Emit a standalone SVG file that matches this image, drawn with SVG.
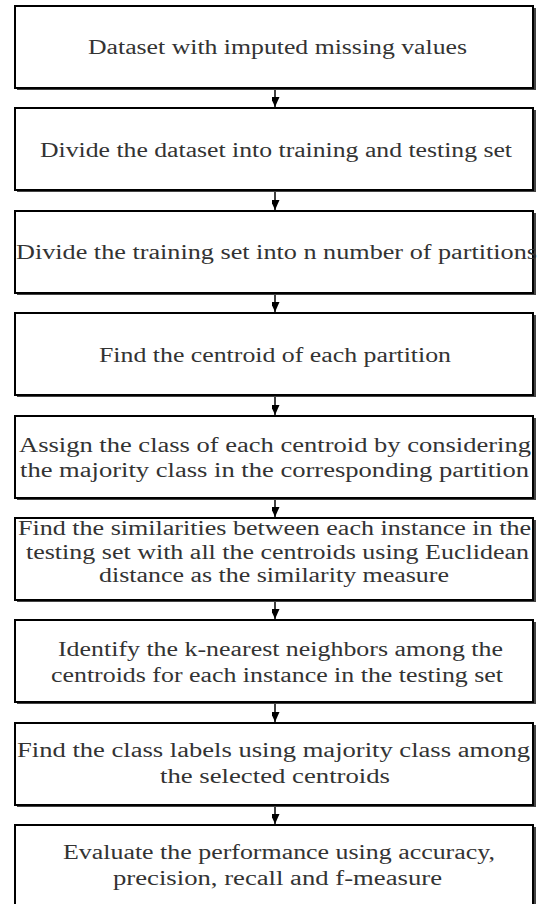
<svg xmlns="http://www.w3.org/2000/svg" width="539" height="904" viewBox="0 0 539 904">
<defs>
<style>
.shadow{fill:#444;}
.box{fill:#fff;stroke:#000;stroke-width:2;}
.t{font-family:"Liberation Serif","Times New Roman",serif;font-size:20px;fill:#333;}
.c{stroke:#000;stroke-width:1.5;fill:none;}
</style>
<marker id="ah" markerWidth="11" markerHeight="8" refX="10" refY="4.5" orient="auto" markerUnits="userSpaceOnUse">
<path d="M0,0 L10,4.5 L0,9 z" fill="#000"/>
</marker>
</defs>
<rect width="539" height="904" fill="#fff"/>
<g id="connectors">
<line class="c" x1="275" y1="88" x2="275" y2="107" marker-end="url(#ah)"/>
<line class="c" x1="275" y1="190" x2="275" y2="210" marker-end="url(#ah)"/>
<line class="c" x1="275" y1="293" x2="275" y2="312" marker-end="url(#ah)"/>
<line class="c" x1="275" y1="395" x2="275" y2="415" marker-end="url(#ah)"/>
<line class="c" x1="275" y1="498" x2="275" y2="517" marker-end="url(#ah)"/>
<line class="c" x1="275" y1="600" x2="275" y2="619" marker-end="url(#ah)"/>
<line class="c" x1="275" y1="702" x2="275" y2="722" marker-end="url(#ah)"/>
<line class="c" x1="275" y1="805" x2="275" y2="824" marker-end="url(#ah)"/>
</g>
<g id="n1">
<rect class="shadow" x="17" y="8" width="519" height="82"/>
<rect class="box" x="15" y="6" width="518" height="82"/>
<text class="t" x="88" y="54" textLength="379" lengthAdjust="spacingAndGlyphs">Dataset with imputed missing values</text>
</g>
<g id="n2">
<rect class="shadow" x="17" y="110" width="519" height="82"/>
<rect class="box" x="15" y="108" width="518" height="82"/>
<text class="t" x="40" y="157" textLength="472" lengthAdjust="spacingAndGlyphs">Divide the dataset into training and testing set</text>
</g>
<g id="n3">
<rect class="shadow" x="17" y="213" width="519" height="82"/>
<rect class="box" x="15" y="211" width="518" height="82"/>
<text class="t" x="16" y="259" textLength="521" lengthAdjust="spacingAndGlyphs">Divide the training set into n number of partitions</text>
</g>
<g id="n4">
<rect class="shadow" x="17" y="315" width="519" height="82"/>
<rect class="box" x="15" y="313" width="518" height="82"/>
<text class="t" x="99" y="362" textLength="352" lengthAdjust="spacingAndGlyphs">Find the centroid of each partition</text>
</g>
<g id="n5">
<rect class="shadow" x="17" y="418" width="519" height="82"/>
<rect class="box" x="15" y="416" width="518" height="82"/>
<text class="t" x="19" y="452" textLength="512" lengthAdjust="spacingAndGlyphs">Assign the class of each centroid by considering</text>
<text class="t" x="20" y="477" textLength="509" lengthAdjust="spacingAndGlyphs">the majority class in the corresponding partition</text>
</g>
<g id="n6">
<rect class="shadow" x="17" y="520" width="519" height="82"/>
<rect class="box" x="15" y="518" width="518" height="82"/>
<text class="t" x="18" y="535" textLength="513" lengthAdjust="spacingAndGlyphs">Find the similarities between each instance in the</text>
<text class="t" x="26" y="559" textLength="503" lengthAdjust="spacingAndGlyphs">testing set with all the centroids using Euclidean</text>
<text class="t" x="99" y="582" textLength="350" lengthAdjust="spacingAndGlyphs">distance as the similarity measure</text>
</g>
<g id="n7">
<rect class="shadow" x="17" y="622" width="519" height="82"/>
<rect class="box" x="15" y="620" width="518" height="82"/>
<text class="t" x="58" y="656" textLength="445" lengthAdjust="spacingAndGlyphs">Identify the k-nearest neighbors among the</text>
<text class="t" x="51" y="682" textLength="452" lengthAdjust="spacingAndGlyphs">centroids for each instance in the testing set</text>
</g>
<g id="n8">
<rect class="shadow" x="17" y="725" width="519" height="82"/>
<rect class="box" x="15" y="723" width="518" height="82"/>
<text class="t" x="17" y="757" textLength="513" lengthAdjust="spacingAndGlyphs">Find the class labels using majority class among</text>
<text class="t" x="160" y="783" textLength="230" lengthAdjust="spacingAndGlyphs">the selected centroids</text>
</g>
<g id="n9">
<rect class="shadow" x="17" y="827" width="519" height="82"/>
<rect class="box" x="15" y="825" width="518" height="82"/>
<text class="t" x="63" y="859" textLength="432" lengthAdjust="spacingAndGlyphs">Evaluate the performance using accuracy,</text>
<text class="t" x="113" y="885" textLength="329" lengthAdjust="spacingAndGlyphs">precision, recall and f-measure</text>
</g>
</svg>
